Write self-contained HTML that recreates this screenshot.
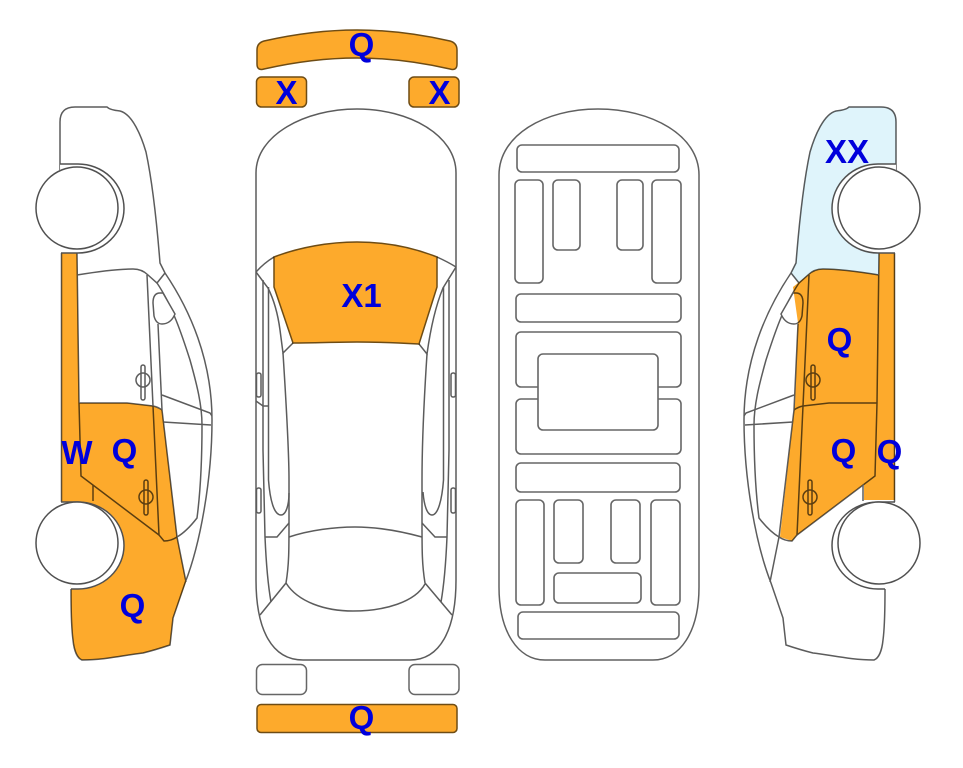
<!DOCTYPE html>
<html><head><meta charset="utf-8"><style>
html,body{margin:0;padding:0;background:#fff;width:963px;height:768px;overflow:hidden}
svg{display:block}
.l{fill:none;stroke:#5c5c5c;stroke-width:1.5;mix-blend-mode:multiply}
.r{fill:none;stroke:#666;stroke-width:2}
.w{fill:#fff;stroke:#505050;stroke-width:1.5}
.o{fill:#fdaa2c}
.ob{fill:#fdaa2c;stroke:#6e4c14;stroke-width:1.5}
text{font-family:"Liberation Sans",sans-serif;font-weight:bold;font-size:33px;fill:#0000dc;text-anchor:middle}
</style></head><body>
<svg width="963" height="768" viewBox="0 0 963 768" xmlns="http://www.w3.org/2000/svg">
<defs>
<g id="sl" class="l">
<path d="M60 170V122Q60 107 75 107H107Q110 110 120 111C132 114 141 135 146 152C153 185 157 225 160 263L165 273C190 310 212 360 212 420C212 480 200 545 185 583L173 618L170 645Q155 650 143 653C125 655 105 660 82 660C77 658 74 650 73 640C71 625 71 605 71 589"/>
<path d="M61.5 253V502"/>
<path d="M77 275C95 272 115 269 133 269C140 269 145 272 148 275L157 283L165 273"/>
<path d="M147 275L153 406L159 535L164 541C170 541 174 539 177 537"/>
<path d="M157 283C172 305 182 335 190 360C197 385 202 405 202 425C202 460 200 495 197 518C190 527 184 533 177 537"/>
<path d="M158 324L162 410L177 537L186 582"/>
<path d="M79 403H127L153 406Q158 407 162 410"/>
<path d="M77 253L79 403L81 476L159 535"/>
<path d="M93 485V501"/>
<path d="M162 395L210 413L212 416M163 422L211 425"/>
<path d="M153 303Q153 293 160 293H163L175 314C172 321 168 324 162 324C157 324 155 320 154 316Z" fill="#fff"/>
<rect x="141" y="365" width="4" height="35" rx="2"/>
<circle cx="143" cy="380" r="7"/>
<rect x="144" y="480" width="4" height="35" rx="2"/>
<circle cx="146" cy="497" r="7"/>
</g>
<g id="sw">
<path d="M60 164H78A46 44.5 0 0 1 78 253H61" fill="#fff" stroke="#505050" stroke-width="1.5"/>
<path d="M61 502H78A46 43.5 0 0 1 78 589H71" fill="#fff" stroke="#505050" stroke-width="1.5"/>
<circle class="w" cx="77" cy="208" r="41"/>
<circle class="w" cx="77" cy="543" r="41"/>
</g>
</defs>

<!-- left car -->
<path class="o" d="M61.500 253H77L79 403H127L153 406L162 410L177 537L186 582L173 618L170 645Q155 650 143 653C125 655 105 660 82 660C77 658 74 650 73 640C71 625 71 605 71 589L61.500 502Z"/>
<use href="#sl"/>
<use href="#sw"/>

<!-- right car -->
<g transform="matrix(-1 0 0 1 956 0)">
<path fill="#dff4fb" d="M60 170V122Q60 107 75 107H107Q110 110 120 111C132 114 141 135 146 152C153 185 157 225 160 263L165 273L157 283L148 275L133 269L77 275L61 253Z"/>
<path class="o" d="M61 253H77L77 275C95 272 115 269 133 269C140 269 145 272 148 275L163 287L158 323L161 403L176 537L164 541L159 535L92 484V500H61Z"/>
<use href="#sl"/>
<use href="#sw"/>
</g>

<!-- top car -->
<path class="ob" d="M257 50Q257 43 264 41C295 34 325 30 357 30C389 30 419 34 450 41Q457 43 457 50V64Q457 71 450 69C419 62 389 58 357 58C325 58 295 62 264 69Q257 71 257 64Z"/>
<rect class="ob" x="256.500" y="77" width="50" height="30" rx="5"/>
<rect class="ob" x="409" y="77" width="50" height="30" rx="5"/>
<path class="ob" d="M274 257C300 247 330 242 357 242C385 242 412 247 437 257V287L419 344C400 343 375 342 357 342C335 342 315 343 293 343L274 287Z"/>
<g class="l">
<path d="M256 173C256 135 305 109 357 109C409 109 456 135 456 173V580C456 630 440 660 410 660H303C272 660 256 630 256 580Z"/>
<path d="M256 272Q264 263 274 257M437 257Q448 262 456 267"/>
<path d="M256 272L268 288C274 300 278 315 280 330L283 353L293 343"/>
<path d="M283 353C286 400 289 450 289 480V523C289 550 289 565 286 583L260 615"/>
<path d="M456 267L443 288C436 305 431 325 427 354L419 344"/>
<path d="M427 354C424 400 422 450 422 480V523C422 550 422 565 425 583L452 615"/>
<path d="M263 280V450L265 537C266 560 268 585 271 602"/>
<path d="M268.500 287V480C270 500 274 515 281 515C286 515 289 505 289 493"/>
<path d="M449 280V450L447 537C446 560 444 585 441 602"/>
<path d="M443.500 287V480C442 500 438 515 432 515C427 515 424 505 423 492"/>
<path d="M265 537H277L289 523M447 537H435L422 523"/>
<path d="M289 537C310 530 335 527 355 527C378 527 400 531 422 537"/>
<path d="M286 583C298 602 325 611 353 611C385 611 415 602 425 584"/>
<path d="M256 401L263 406H269"/>
<rect x="256.500" y="373" width="4.500" height="24" rx="2"/>
<rect x="256.500" y="488" width="4.500" height="25" rx="2"/>
<rect x="451" y="373" width="4.500" height="24" rx="2"/>
<rect x="451" y="488" width="4.500" height="25" rx="2"/>
</g>
<rect class="r" style="stroke-width:1.500" x="256.500" y="664.500" width="50" height="30" rx="6" fill="none"/>
<rect class="r" style="stroke-width:1.500" x="409" y="664.500" width="50" height="30" rx="6" fill="none"/>
<rect class="ob" x="257" y="704.500" width="200" height="28" rx="4"/>

<!-- underside -->
<path fill="none" stroke="#606060" stroke-width="1.500" d="M499 175C499 135 545 109 598 109C651 109 699 135 699 175V587C699 632 680 660 653 660H545C518 660 499 632 499 587Z"/>
<g fill="#fff" stroke="#666" stroke-width="1.600">
<rect x="517" y="145" width="162" height="27" rx="5"/>
<rect x="515" y="180" width="28" height="103" rx="5"/>
<rect x="553" y="180" width="27" height="70" rx="5"/>
<rect x="617" y="180" width="26" height="70" rx="5"/>
<rect x="652" y="180" width="29" height="103" rx="5"/>
<rect x="516" y="294" width="165" height="28" rx="5"/>
<rect x="516" y="332" width="165" height="55" rx="5"/>
<rect x="516" y="399" width="165" height="55" rx="5"/>
<rect x="538" y="354" width="120" height="76" rx="5"/>
<rect x="516" y="463" width="164" height="29" rx="5"/>
<rect x="516" y="500" width="28" height="105" rx="5"/>
<rect x="554" y="500" width="29" height="63" rx="5"/>
<rect x="611" y="500" width="29" height="63" rx="5"/>
<rect x="651" y="500" width="29" height="105" rx="5"/>
<rect x="554" y="573" width="87" height="30" rx="5"/>
<rect x="518" y="612" width="161" height="27" rx="5"/>
</g>

<!-- labels -->
<text x="361.500" y="56">Q</text>
<text x="286.500" y="104">X</text>
<text x="439.500" y="104">X</text>
<text x="361.500" y="307">X1</text>
<text x="847" y="163">XX</text>
<text x="77" y="464">W</text>
<text x="124.500" y="462">Q</text>
<text x="132.500" y="617">Q</text>
<text x="361.500" y="729">Q</text>
<text x="839.500" y="351">Q</text>
<text x="843.500" y="462">Q</text>
<text x="889.500" y="463">Q</text>
</svg>
</body></html>
